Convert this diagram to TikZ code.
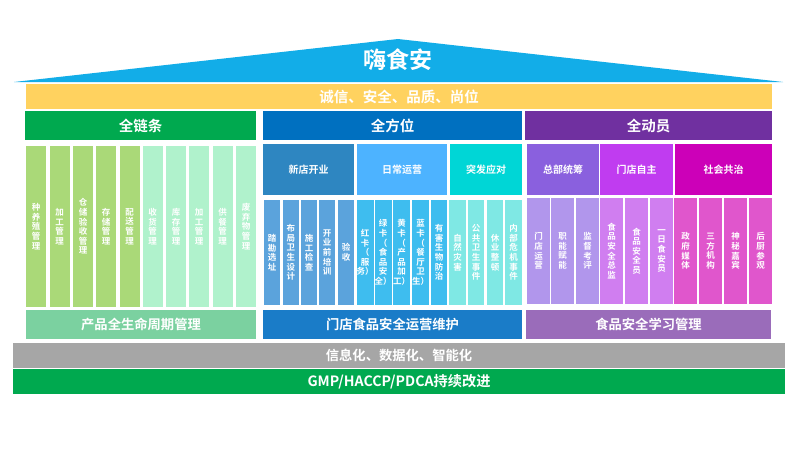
\documentclass[tikz,border=0pt]{standalone}
\usepackage{fontspec}
\setmainfont{Noto Sans CJK SC}[BoldFont={* Bold}]
\usepackage{tikz}

\definecolor{roofblue}{HTML}{12ADE8}
\definecolor{bandyellow}{HTML}{FFD25F}
\definecolor{headgreen}{HTML}{00A94F}
\definecolor{headblue}{HTML}{0070C0}
\definecolor{headpurple}{HTML}{7030A0}
\definecolor{newblue}{HTML}{2E86C1}
\definecolor{dayblue}{HTML}{4DB3FF}
\definecolor{urgentcyan}{HTML}{00D6D6}
\definecolor{hqviolet}{HTML}{8A60DE}
\definecolor{shopviolet}{HTML}{C03CF0}
\definecolor{socialpink}{HTML}{CC00B8}
\definecolor{colgreen}{HTML}{AAD978}
\definecolor{colmint}{HTML}{B0F2CC}
\definecolor{colblue}{HTML}{5BA3DC}
\definecolor{colsky}{HTML}{3EBDEF}
\definecolor{colcyan}{HTML}{7FE8E4}
\definecolor{colviolet}{HTML}{B196EC}
\definecolor{colorchid}{HTML}{D07EF0}
\definecolor{colpink}{HTML}{E056CC}
\definecolor{footgreen}{HTML}{7BD1A0}
\definecolor{footblue}{HTML}{1A7CC8}
\definecolor{footpurple}{HTML}{9A6CBA}

\tikzset{
	box/.style={inner sep=0pt, text=white, font=\bfseries, align=center},
	headbox/.style={box, minimum height=29, font=\fontsize{14.5}{16}\selectfont\bfseries},
	subbox/.style={box, minimum height=51, font=\fontsize{10}{12}\selectfont\bfseries},
	colbox/.style={box, font=\fontsize{8.5}{9.6}\selectfont\bfseries},
	footbox/.style={box, minimum height=29, font=\fontsize{13.3}{15}\selectfont\bfseries},
	basebox/.style={box, minimum width=772, minimum height=25, font=\fontsize{13.3}{15}\selectfont\bfseries}
}

\begin{document}
\begin{tikzpicture}[x=1pt, y=-1pt]
	\useasboundingbox (0,0) rectangle (800,450);
	\fill [white] (0,0) rectangle (800,450);

	% Roof and band
	\fill [roofblue] (14,82) -- (398,39) -- (783,82) -- cycle;
	\node [box, font=\fontsize{23}{25}\selectfont\bfseries] (roof) at (398,60) {嗨食安};
	\node [box, fill=bandyellow, minimum width=746, minimum height=25, font=\fontsize{14.5}{16}\selectfont\bfseries] (band) at (399,96.5) {诚信、安全、品质、尚位};

	% Headers
	\node [headbox, fill=headgreen, minimum width=231]  (chain)  at (140.5,125.5) {全链条};
	\node [headbox, fill=headblue, minimum width=259]   (range)  at (392.5,125.5) {全方位};
	\node [headbox, fill=headpurple, minimum width=247] (staff)  at (648.5,125.5) {全动员};

	% Sub headers
	\foreach \x/\w/\c/\t [count=\i] in {
		263/91/newblue/新店开业, 357/90/dayblue/日常运营, 450/72/urgentcyan/突发应对,
		527/72/hqviolet/总部统筹, 600/73/shopviolet/门店自主, 675/97/socialpink/社会共治}
		\node [subbox, fill=\c, minimum width=\w] (sub\i) at (\x+\w/2,169.5) {\t};

	% Chain columns
	\foreach \x/\c/\t [count=\i] in {
		26/colgreen/{种\\养\\殖\\管\\理}, 49.5/colgreen/{加\\工\\管\\理},
		73/colgreen/{仓\\储\\验\\收\\管\\理}, 96/colgreen/{存\\储\\管\\理},
		119.5/colgreen/{配\\送\\管\\理}, 142.5/colmint/{收\\货\\管\\理},
		166/colmint/{库\\存\\管\\理}, 189/colmint/{加\\工\\管\\理},
		212.5/colmint/{供\\餐\\管\\理}, 236/colmint/{废\\弃\\物\\管\\理}}
		\node [colbox, fill=\c, minimum width=20, minimum height=161] (chain\i) at (\x+10,226.5) {\t};

	% Range columns
	\foreach \x/\w/\c/\t [count=\i] in {
		264/16/colblue/{踏\\勘\\选\\址}, 283/15.5/colblue/{布\\局\\卫\\生\\设\\计},
		301/16/colblue/{施\\工\\检\\查}, 319/16/colblue/{开\\业\\前\\培\\训},
		338/16/colblue/{验\\收}, 357/16/colsky/{红\\卡\\（\\服\\务）},
		375/16/colsky/{绿\\卡\\（\\食\\品\\安\\全）}, 393/17/colsky/{黄\\卡\\（\\产\\品\\加\\工）},
		412/17/colsky/{蓝\\卡\\（\\餐\\厅\\卫\\生）}, 431/16/colsky/{有\\害\\生\\物\\防\\治},
		449/17/colcyan/{自\\然\\灾\\害}, 468/16/colcyan/{公\\共\\卫\\生\\事\\件},
		487/16/colcyan/{休\\业\\整\\顿}, 505/17/colcyan/{内\\部\\危\\机\\事\\件}}
		\node [colbox, fill=\c, minimum width=\w, minimum height=105] (range\i) at (\x+\w/2,252.5) {\t};

	% Staff columns
	\foreach \x/\c/\t [count=\i] in {
		527/colviolet/{门\\店\\运\\营}, 551/colviolet/{职\\能\\赋\\能},
		576/colviolet/{监\\督\\考\\评}, 600/colorchid/{食\\品\\安\\全\\总\\监},
		625/colorchid/{食\\品\\安\\全\\员}, 650/colorchid/{一\\日\\食\\安\\员},
		674/colpink/{政\\府\\媒\\体}, 699/colpink/{三\\方\\机\\构},
		724/colpink/{神\\秘\\嘉\\宾}, 749/colpink/{后\\厨\\参\\观}}
		\node [colbox, fill=\c, minimum width=23, minimum height=106] (staff\i) at (\x+11.5,251) {\t};

	% Footers
	\node [footbox, fill=footgreen, minimum width=230]  (life)  at (141,324.5) {产品全生命周期管理};
	\node [footbox, fill=footblue, minimum width=259]   (store) at (392.5,324.5) {门店食品安全运营维护};
	\node [footbox, fill=footpurple, minimum width=245] (learn) at (648.5,324.5) {食品安全学习管理};

	% Base
	\node [basebox, fill=black!35] (info) at (399,355.5) {信息化、数据化、智能化};
	\node [basebox, fill=headgreen, font=\fontsize{14.2}{15}\selectfont\bfseries] (gmp) at (399,381.5) {GMP/HACCP/PDCA持续改进};
\end{tikzpicture}
\end{document}
